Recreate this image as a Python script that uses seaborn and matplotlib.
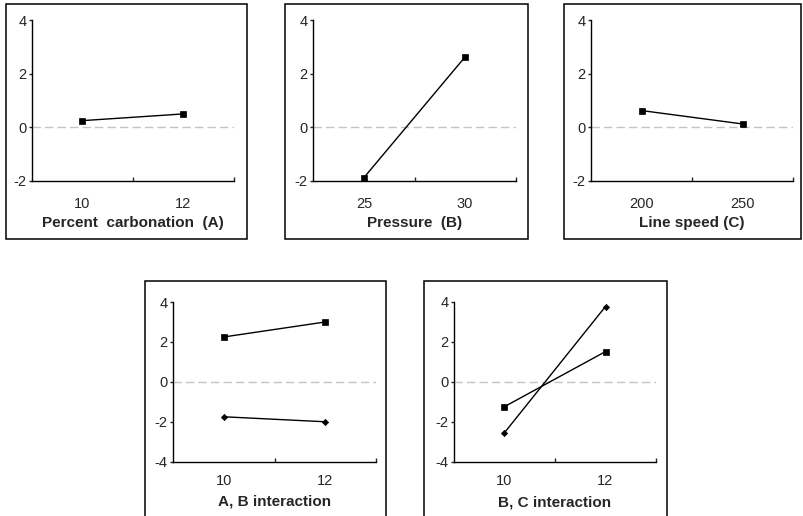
"""
Main-effect and interaction plots for the 2^3 bottling experiment
(percent carbonation A, pressure B, line speed C).
"""
import numpy as np
import pandas as pd
import matplotlib
matplotlib.use("Agg")
import matplotlib.pyplot as plt
from matplotlib.patches import Rectangle
import seaborn as sns

# ---------- data -----------------------------------------------------------
carb_levels = ["10", "12"]
carb_means = [0.25, 0.5]
press_levels = ["25", "30"]
press_means = [-1.875, 2.625]
speed_levels = ["200", "250"]
speed_means = [0.625, 0.125]

ab_levels = ["10", "12"]
ab_square = [2.25, 3.0]     # B high
ab_diamond = [-1.75, -2.0]  # B low
bc_levels = ["10", "12"]
bc_square = [-1.25, 1.5]
bc_diamond = [-2.55, 3.75]

top_yticks = [-2, 0, 2, 4]
bot_yticks = [-4, -2, 0, 2, 4]

sns.set_style("ticks")
plt.rcParams["font.family"] = ["Liberation Sans", "DejaVu Sans"]
plt.rcParams["axes.unicode_minus"] = False

W, H = 804, 516
fig = plt.figure(figsize=(W / 100, H / 100), dpi=100)


def box(l, t, r, b):
    fig.add_artist(Rectangle((l / W, 1 - b / H), (r - l) / W, (b - t) / H,
                             transform=fig.transFigure, fill=False,
                             ec="black", lw=1.1))


def panel(l, t, r, b):
    return fig.add_axes([l / W, 1 - b / H, (r - l) / W, (b - t) / H])


def style(ax, label, yticks, tick_pad, label_y):
    ax.axhline(0, color="#c4c4c4", lw=1, dashes=(6, 3), zorder=0)
    ax.set_ylim(yticks[0], yticks[-1])
    ax.set_yticks(yticks)
    ax.set_yticklabels([str(v) for v in yticks])
    ax.set_xlim(-0.5, 1.5)
    ax.set_xticks([0.5, 1.5], minor=True)
    ax.tick_params(axis="x", which="major", length=0, pad=tick_pad, labelsize=10.5)
    ax.tick_params(axis="x", which="minor", direction="in", length=2.8, width=1)
    ax.tick_params(axis="y", direction="out", length=2.5, width=1, pad=1.5, labelsize=10.5)
    for s in ("top", "right"):
        ax.spines[s].set_visible(False)
    for s in ("left", "bottom"):
        ax.spines[s].set_linewidth(1)
        ax.spines[s].set_color("black")
    ax.set_ylabel("")
    ax.set_xlabel(label, fontsize=11, fontweight="bold", va="baseline")
    ax.xaxis.set_label_coords(0.5, label_y)


def main_effect(ax, levels, means, label):
    df = pd.DataFrame({"level": levels, "mean": means})
    sns.pointplot(data=df, x="level", y="mean", order=levels, color="black",
                  markers="s", linewidth=1, markersize=4.2, markeredgewidth=0.5,
                  errorbar=None, ax=ax)
    style(ax, label, top_yticks, 11.5, -0.284)


def interaction(ax, levels, sq, di, label):
    df = pd.DataFrame({"level": levels * 2, "mean": sq + di,
                       "line": ["sq"] * len(sq) + ["di"] * len(di)})
    sns.pointplot(data=df, x="level", y="mean", hue="line", order=levels,
                  hue_order=["sq", "di"], palette=["black", "black"],
                  markers=["s", "D"], linestyles=["-", "-"], linewidth=1,
                  markersize=3.2, markeredgewidth=0.5, errorbar=None,
                  legend=False, ax=ax)
    ax.lines[0].set_markersize(4.2)
    style(ax, label, bot_yticks, 9, -0.277)


# top row: main effects
box(6, 4, 247, 239)
box(285, 4, 528, 239)
box(564, 4, 801, 239)
main_effect(panel(32, 20, 234, 181), carb_levels, carb_means, "Percent  carbonation  (A)")
main_effect(panel(313.3, 20, 515.7, 181), press_levels, press_means, "Pressure  (B)")
main_effect(panel(591, 20, 793.3, 181), speed_levels, speed_means, "Line speed (C)")

# bottom row: two-factor interactions
box(145, 281, 386, 530)
box(424, 281, 667, 530)
interaction(panel(173.3, 302, 376, 461.7), ab_levels, ab_square, ab_diamond, "A, B interaction")
interaction(panel(454, 301.5, 656, 461.7), bc_levels, bc_square, bc_diamond, "B, C interaction")

fig.savefig("out.png", dpi=100)
